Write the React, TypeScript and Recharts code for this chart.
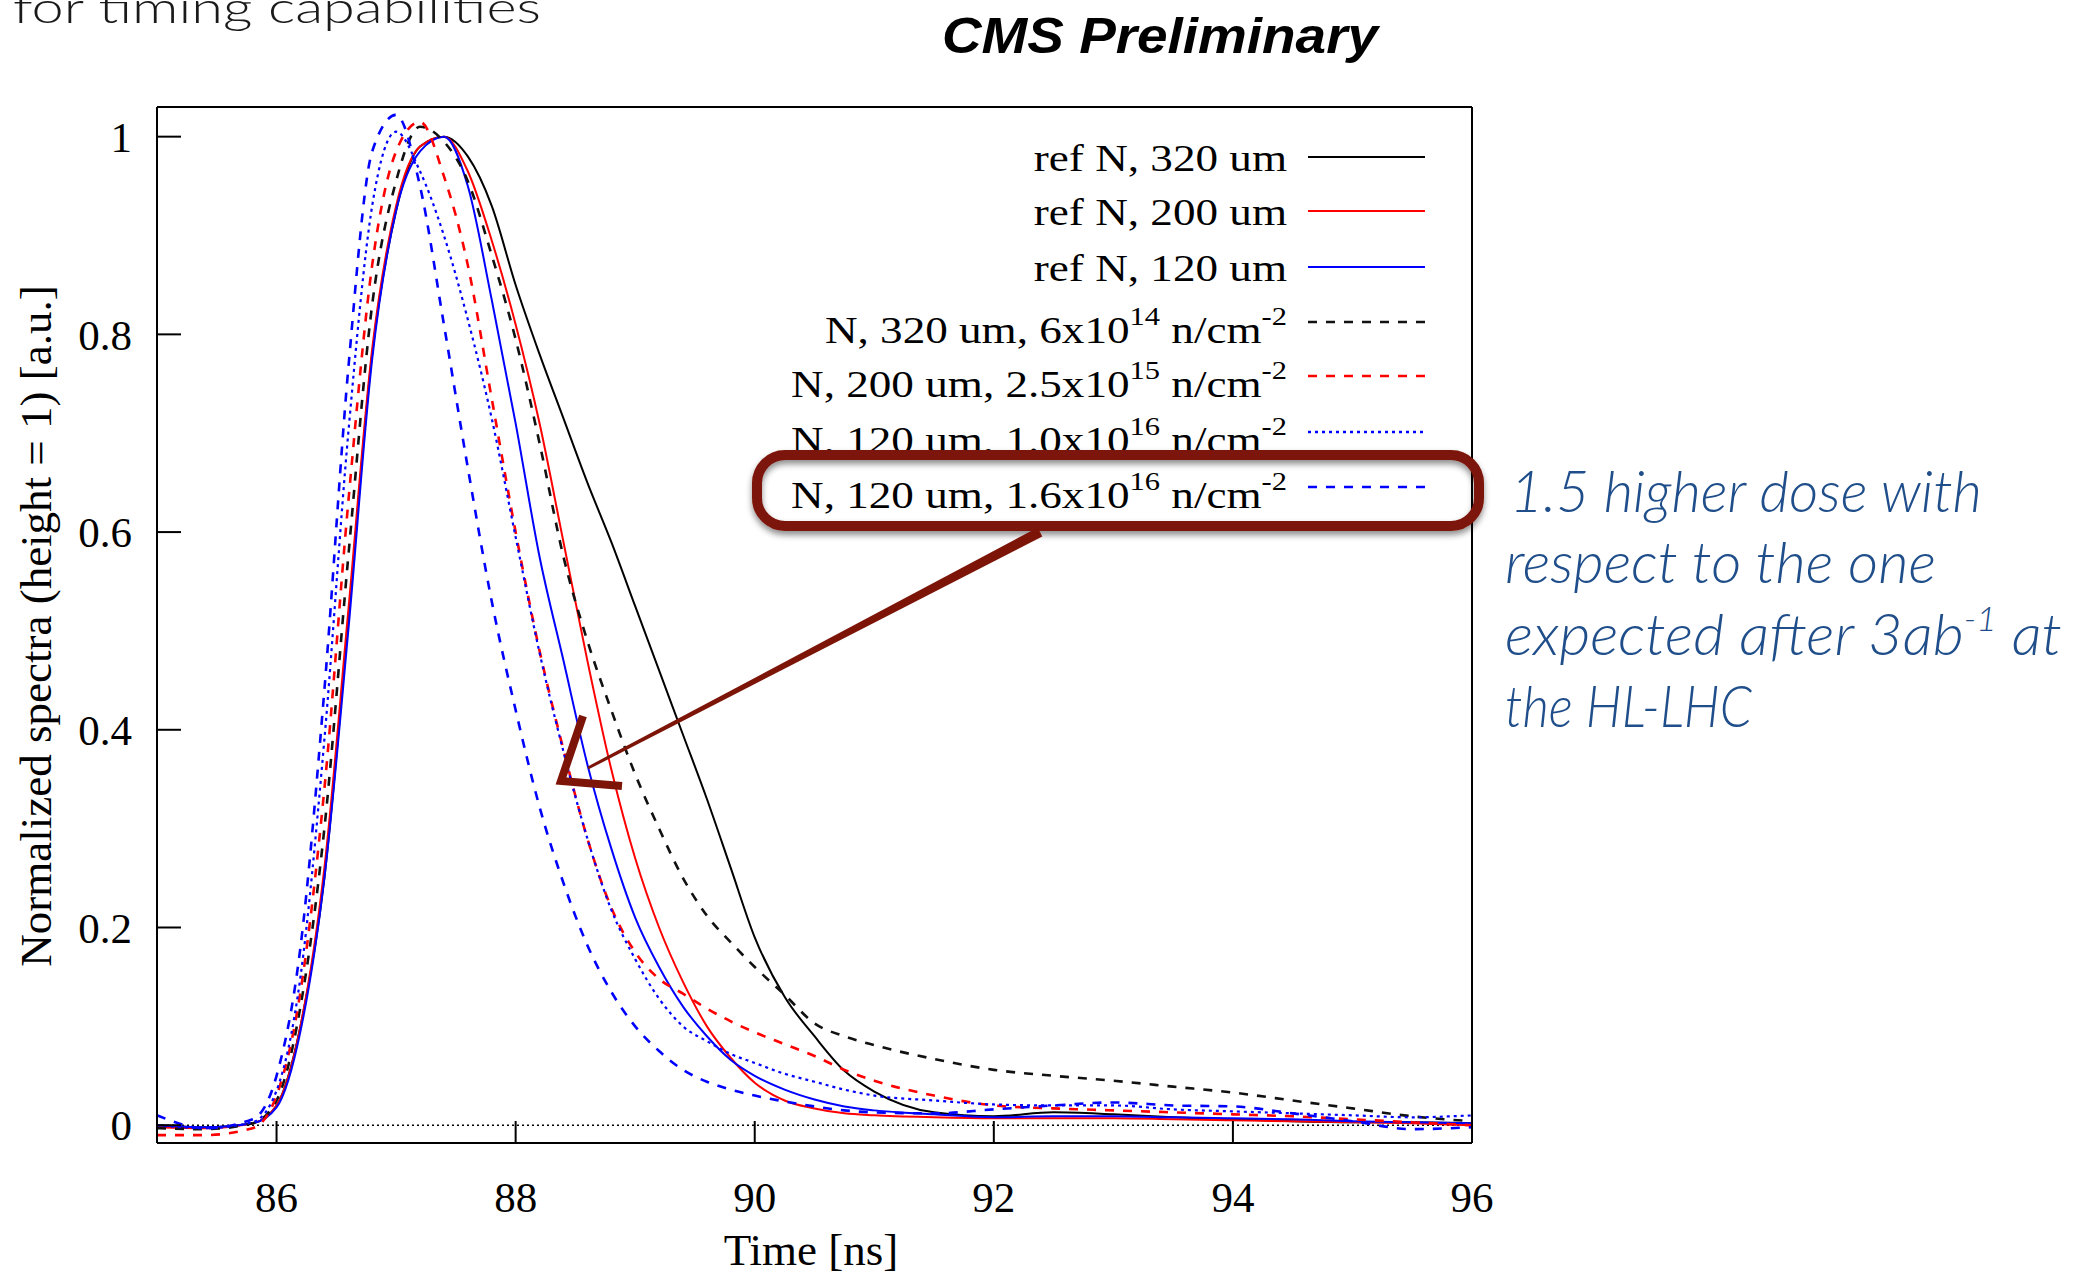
import React from 'react';
import { LineChart, Line, XAxis, YAxis, ReferenceLine } from 'recharts';

// time grid [ns] shared by every curve
const TIME = [
  85.0, 85.4, 85.8, 86.0, 86.2, 86.4, 86.6, 86.8, 87.0, 87.2, 87.4, 87.6, 87.8, 88.0, 88.2, 88.4, 88.6, 88.8, 89.0,
  89.2, 89.4, 89.6, 89.8, 90.0, 90.25, 90.5, 90.75, 91.0, 91.5, 92.0, 92.5, 93.0, 93.5, 94.0, 94.5, 95.0, 95.5, 96.0,
];

const REF_320 = [
  0.0, -0.002, 0.002, 0.02, 0.1, 0.25, 0.51, 0.78, 0.925, 0.99, 1.0, 0.98, 0.93, 0.85, 0.78, 0.715, 0.65, 0.59, 0.525,
  0.46, 0.395, 0.33, 0.26, 0.19, 0.13, 0.09, 0.055, 0.034, 0.013, 0.009, 0.013, 0.011, 0.008, 0.006, 0.004, 0.003, 0.003, 0.002,
];
const REF_200 = [
  -0.002, -0.003, 0.002, 0.02, 0.1, 0.26, 0.52, 0.785, 0.93, 0.99, 1.0, 0.965, 0.895, 0.81, 0.71, 0.59, 0.47, 0.36, 0.27,
  0.2, 0.145, 0.1, 0.068, 0.043, 0.025, 0.017, 0.012, 0.01, 0.008, 0.007, 0.007, 0.007, 0.006, 0.005, 0.004, 0.003, 0.002, 0.0,
];
const REF_120 = [
  0.0, -0.002, 0.002, 0.018, 0.095, 0.25, 0.5, 0.775, 0.925, 0.985, 1.0, 0.95, 0.835, 0.71, 0.575, 0.47, 0.365, 0.28, 0.21,
  0.16, 0.12, 0.09, 0.066, 0.05, 0.036, 0.026, 0.019, 0.015, 0.011, 0.008, 0.009, 0.009, 0.008, 0.007, 0.006, 0.004, 0.003, 0.002,
];
const IRR_320 = [
  -0.003, -0.004, 0.002, 0.025, 0.12, 0.3, 0.575, 0.83, 0.955, 1.01, 0.995, 0.955, 0.88, 0.795, 0.69, 0.575, 0.49, 0.42, 0.355,
  0.3, 0.25, 0.212, 0.185, 0.16, 0.132, 0.103, 0.09, 0.081, 0.067, 0.056, 0.05, 0.045, 0.039, 0.033, 0.025, 0.017, 0.009, 0.004,
];
const IRR_200 = [
  -0.01, -0.01, -0.003, 0.03, 0.135, 0.34, 0.63, 0.87, 0.985, 1.015, 0.96, 0.87, 0.735, 0.6, 0.48, 0.38, 0.29, 0.22, 0.175,
  0.148, 0.133, 0.118, 0.105, 0.094, 0.082, 0.07, 0.056, 0.045, 0.03, 0.02, 0.017, 0.015, 0.013, 0.011, 0.009, 0.006, 0.003, 0.0,
];
const IRR_120_A = [
  0.0, -0.003, 0.003, 0.035, 0.15, 0.39, 0.7, 0.93, 1.005, 0.965, 0.9, 0.815, 0.715, 0.595, 0.478, 0.378, 0.29, 0.218, 0.168,
  0.128, 0.1, 0.085, 0.072, 0.063, 0.052, 0.044, 0.036, 0.03, 0.025, 0.021, 0.02, 0.02, 0.016, 0.014, 0.012, 0.01, 0.008, 0.01,
];
const IRR_120_B = [
  0.01, -0.003, 0.006, 0.05, 0.18, 0.44, 0.765, 0.985, 1.022, 0.95, 0.81, 0.665, 0.53, 0.42, 0.322, 0.245, 0.182, 0.135, 0.1,
  0.075, 0.056, 0.044, 0.036, 0.03, 0.024, 0.019, 0.015, 0.013, 0.012, 0.016, 0.02, 0.023, 0.02, 0.019, 0.012, 0.004, -0.004, -0.002,
];

const X_TICKS = [86, 88, 90, 92, 94, 96];
const Y_TICKS = [0, 0.2, 0.4, 0.6, 0.8, 1];

const SERIES = [
  { key: 'ref320', base: 'ref N, 320 um', exp: '', values: REF_320, color: '#000000', dash: undefined, width: 2 },
  { key: 'ref200', base: 'ref N, 200 um', exp: '', values: REF_200, color: '#ff0000', dash: undefined, width: 2 },
  { key: 'ref120', base: 'ref N, 120 um', exp: '', values: REF_120, color: '#0000ff', dash: undefined, width: 2 },
  { key: 'irr320', base: 'N, 320 um, 6x10', exp: '14', values: IRR_320, color: '#111111', dash: '9 9', width: 2.6 },
  { key: 'irr200', base: 'N, 200 um, 2.5x10', exp: '15', values: IRR_200, color: '#ff0000', dash: '9 9', width: 2.6 },
  { key: 'irr120a', base: 'N, 120 um, 1.0x10', exp: '16', values: IRR_120_A, color: '#0000ff', dash: '3 4', width: 2.2 },
  { key: 'irr120b', base: 'N, 120 um, 1.6x10', exp: '16', values: IRR_120_B, color: '#0000ff', dash: '9 9', width: 2.6 },
];

const data = TIME.map((t, i) => {
  const row: Record<string, number> = { t };
  SERIES.forEach((s) => { row[s.key] = s.values[i]; });
  return row;
});

const SERIF = "'Liberation Serif', 'DejaVu Serif', serif";
const NOTE_BLUE = '#1f4e8a';
const PEN_RED = '#7c1508';
const LEGEND_BASELINES = [171, 225, 281, 343, 397, 453, 508];

const Overlay = () => (
  <svg width={2096} height={1275} style={{ position: 'absolute', left: 0, top: 0, pointerEvents: 'none' }}>
    <defs>
      <filter id="penShadow" x="-5%" y="-30%" width="110%" height="160%">
        <feDropShadow dx="0" dy="4" stdDeviation="3" floodColor="#000" floodOpacity="0.45" />
      </filter>
    </defs>

    <text x={13} y={23} fontFamily="Lato, 'Open Sans', sans-serif" fontWeight={300} fontSize={44}
      textLength={528} lengthAdjust="spacingAndGlyphs" fill="#1a1a1a">for timing capabilities</text>
    <text x={942} y={53} fontFamily="'Liberation Sans', Arial, sans-serif" fontWeight={700} fontStyle="italic"
      fontSize={50} textLength={436} lengthAdjust="spacingAndGlyphs" fill="#000">CMS Preliminary</text>

    {/* axis titles */}
    <text x={51} y={626} transform="rotate(-90 51 626)" textAnchor="middle" fontFamily={SERIF} fontSize={45}
      fill="#000">Normalized spectra (height = 1) [a.u.]</text>
    <text x={811} y={1265} textAnchor="middle" fontFamily={SERIF} fontSize={45} fill="#000">Time [ns]</text>

    {/* legend */}
    {SERIES.map((s, i) => {
      const yb = LEGEND_BASELINES[i];
      const ly = yb - (s.exp ? 21 : 14);
      return (
        <g key={s.key}>
          <g transform={`translate(1287 ${yb}) scale(1.22 1)`}>
            <text x={0} y={0} textAnchor="end" fontFamily={SERIF} fontSize={37} fill="#000">
              {s.base}
              {s.exp ? <tspan dy={-18} fontSize={25}>{s.exp}</tspan> : null}
              {s.exp ? <tspan dy={18}> n/cm</tspan> : null}
              {s.exp ? <tspan dy={-18} fontSize={25}>-2</tspan> : null}
            </text>
          </g>
          <line x1={1308} x2={1425} y1={ly} y2={ly} stroke={s.color} strokeWidth={s.dash ? 2.4 : 2}
            strokeDasharray={s.dash} />
        </g>
      );
    })}

    {/* hand-drawn highlight */}
    <rect x={757} y={455} width={722} height={71} rx={28} ry={28} fill="none" stroke={PEN_RED} strokeWidth={10}
      filter="url(#penShadow)" />
    <polygon points="1042.3,536.4 1037.7,527.6 587.3,766.7 588.7,769.3" fill={PEN_RED} />
    <polyline points="583,716 561,781 622,786" fill="none" stroke={PEN_RED} strokeWidth={8} strokeLinejoin="miter" />

    <g fontFamily="Lato, 'Open Sans', sans-serif" fontWeight={300} fontStyle="italic" fontSize={58} fill={NOTE_BLUE}>
      <text x={1510} y={512} textLength={472} lengthAdjust="spacingAndGlyphs">1.5 higher dose with</text>
      <text x={1505} y={583} textLength={431} lengthAdjust="spacingAndGlyphs">respect to the one</text>
      <text x={1505} y={655} textLength={557} lengthAdjust="spacingAndGlyphs">
        expected after 3ab<tspan dy={-24} fontSize={34}>-1</tspan><tspan dy={24}> at</tspan>
      </text>
      <text x={1505} y={727} textLength={247} lengthAdjust="spacingAndGlyphs">the HL-LHC</text>
    </g>
  </svg>
);

const App = () => (
  <div style={{ position: 'absolute', left: 0, top: 0, width: 2096, height: 1275, background: '#fff' }}>
    <LineChart width={2096} height={1275} data={data} margin={{ top: 97, right: 614, bottom: 72, left: 57 }}>
      <XAxis xAxisId="b" dataKey="t" type="number" domain={[85, 96]} ticks={X_TICKS} interval={0}
        allowDataOverflow height={60} tickSize={-22} tickMargin={60}
        axisLine={{ stroke: '#000', strokeWidth: 2 }} tickLine={{ stroke: '#000', strokeWidth: 2 }}
        tick={{ fill: '#000', fontSize: 43, fontFamily: SERIF }} />
      <XAxis xAxisId="t" orientation="top" dataKey="t" type="number" domain={[85, 96]} ticks={X_TICKS}
        interval={0} allowDataOverflow height={10} tickSize={-22} tick={false}
        axisLine={{ stroke: '#000', strokeWidth: 2 }} tickLine={{ stroke: '#000', strokeWidth: 2 }} />
      <YAxis yAxisId="l" type="number" domain={[-0.018, 1.03]} ticks={Y_TICKS} interval={0} allowDataOverflow
        width={100} tickSize={-24} tickMargin={49}
        axisLine={{ stroke: '#000', strokeWidth: 2 }} tickLine={{ stroke: '#000', strokeWidth: 2 }}
        tick={{ fill: '#000', fontSize: 43, fontFamily: SERIF }} />
      <YAxis yAxisId="r" orientation="right" type="number" domain={[-0.018, 1.03]} ticks={Y_TICKS} interval={0}
        allowDataOverflow width={10} tickSize={-24} tick={false}
        axisLine={{ stroke: '#000', strokeWidth: 2 }} tickLine={{ stroke: '#000', strokeWidth: 2 }} />
      <ReferenceLine xAxisId="b" yAxisId="l" y={0} stroke="#000" strokeWidth={1.6} strokeDasharray="2 3" />
      {SERIES.map((s) => (
        <Line key={s.key} xAxisId="b" yAxisId="l" type="monotone" dataKey={s.key} stroke={s.color}
          strokeWidth={s.width} strokeDasharray={s.dash} dot={false} isAnimationActive={false} />
      ))}
    </LineChart>
    <Overlay />
  </div>
);

export default App;
